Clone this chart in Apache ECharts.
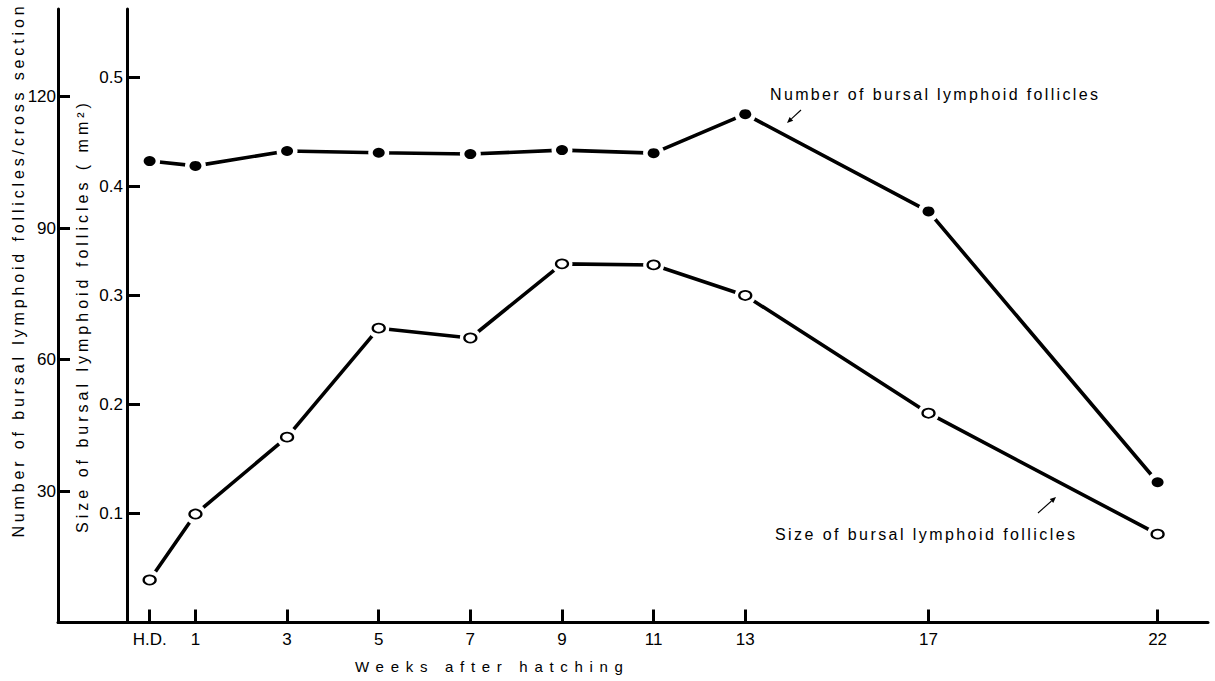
<!DOCTYPE html>
<html>
<head>
<meta charset="utf-8">
<script src="https://cdn.jsdelivr.net/npm/echarts@6.0.0/dist/echarts.min.js"></script>
<style>
  html, body { margin: 0; padding: 0; background: #fff; }
  #chart { width: 1215px; height: 681px; }
</style>
</head>
<body>
<div id="chart"></div>
<script>
// Weeks after hatching (H.D. = hatching day, week 0)
const weeks = [0, 1, 3, 5, 7, 9, 11, 13, 17, 22];
const weekLabels = ['H.D.', '1', '3', '5', '7', '9', '11', '13', '17', '22'];
// Number of bursal lymphoid follicles per cross section
const follicleNumber = [105.3, 104.2, 107.6, 107.2, 106.9, 107.8, 107.1, 116.0, 93.8, 32.0];
// Size of bursal lymphoid follicles (mm²)
const follicleSize = [0.039, 0.0995, 0.170, 0.270, 0.261, 0.329, 0.328, 0.300, 0.192, 0.081];
// Axis tick values
const numberTicks = [30, 60, 90, 120];
const sizeTicks = [0.1, 0.2, 0.3, 0.4, 0.5];

const FONT = "'Liberation Sans', Arial, Helvetica, sans-serif";
const INK = '#000';

const numberPts = weeks.map((w, i) => [w, follicleNumber[i]]);
const sizePts = weeks.map((w, i) => [w, follicleSize[i]]);

// Free-standing texts: axis titles and the two series captions.
// "span" is the length the letter-spaced text should cover.
const texts = [
  { text: 'Number of bursal lymphoid follicles/cross section', x: 18, y: 272, rot: true, size: 16, span: 531 },
  { text: 'Size of bursal lymphoid follicles ( mm²)', x: 82, y: 318, rot: true, size: 16, span: 430 },
  { text: 'Weeks after hatching', x: 489, y: 666, rot: false, size: 15, span: 268 },
  { text: 'Number of bursal lymphoid follicles', x: 934, y: 94, rot: false, size: 16, span: 328 },
  { text: 'Size of bursal lymphoid follicles', x: 925, y: 534, rot: false, size: 16, span: 300 }
];

function arrow(x1, y1, x2, y2) {
  const a = Math.atan2(y2 - y1, x2 - x1);
  const L = 6, W = 2.6;
  const bx = x2 - L * Math.cos(a), by = y2 - L * Math.sin(a);
  return [
    { type: 'line', silent: true, shape: { x1, y1, x2: bx, y2: by }, style: { stroke: INK, lineWidth: 1.1 } },
    { type: 'polygon', silent: true, shape: { points: [[x2, y2], [bx + W * Math.sin(a), by - W * Math.cos(a)], [bx - W * Math.sin(a), by + W * Math.cos(a)]] }, style: { fill: INK } }
  ];
}

const graphic = texts.map(t => ({
  type: 'text', silent: true, x: t.x, y: t.y, rotation: t.rot ? Math.PI / 2 : 0,
  style: { text: t.text, fill: INK, font: `${t.size}px ${FONT}`, align: 'center', verticalAlign: 'middle' }
})).concat(arrow(801, 110, 787, 123), arrow(1038, 513, 1056, 497));

const axisLineStyle = { color: INK, width: 3 };
const tickStyle = { color: INK, width: 3 };
const labelBase = { color: INK, fontSize: 17, fontFamily: FONT };

// Connecting lines (drawn first), white discs that open a small gap
// around every point, then the markers themselves on top.
const lineSeries = (yIdx, data) => ({
  type: 'line', silent: true, yAxisIndex: yIdx, data, symbol: 'none', z: 1,
  lineStyle: { color: INK, width: 3.6 }, emphasis: { disabled: true }
});
const gapSeries = (yIdx, data) => ({
  type: 'scatter', silent: true, yAxisIndex: yIdx, data, z: 2,
  symbol: 'circle', symbolSize: 21, itemStyle: { color: '#fff', borderWidth: 0, opacity: 1 }
});

const option = {
  animation: false,
  backgroundColor: '#fff',
  grid: { left: 58, right: 7, top: 9, bottom: 58.5, containLabel: false },
  xAxis: {
    type: 'value', min: -2, max: 23.1,
    axisLine: { show: true, onZero: false, lineStyle: axisLineStyle },
    axisTick: { show: true, inside: true, length: 13, lineStyle: tickStyle, customValues: weeks },
    axisLabel: { ...labelBase, margin: 8, customValues: weeks, formatter: v => weekLabels[weeks.indexOf(v)] },
    splitLine: { show: false }
  },
  yAxis: [
    {
      type: 'value', min: 0, max: 140, position: 'left',
      axisLine: { show: true, onZero: false, lineStyle: axisLineStyle },
      axisTick: { show: true, inside: true, length: 12, lineStyle: tickStyle, customValues: numberTicks },
      axisLabel: { ...labelBase, margin: 2, customValues: numberTicks },
      splitLine: { show: false }
    },
    {
      type: 'value', min: 0, max: 0.5628, position: 'left', offset: -69,
      axisLine: { show: true, onZero: false, lineStyle: axisLineStyle },
      axisTick: { show: true, inside: true, length: 13, lineStyle: tickStyle, customValues: sizeTicks },
      axisLabel: { ...labelBase, margin: 4, customValues: sizeTicks, formatter: v => v.toFixed(1) },
      splitLine: { show: false }
    }
  ],
  series: [
    lineSeries(0, numberPts),
    lineSeries(1, sizePts),
    gapSeries(0, numberPts),
    gapSeries(1, sizePts),
    {
      type: 'scatter', silent: true, yAxisIndex: 0, data: numberPts, z: 3,
      symbol: 'circle', symbolSize: [12, 10], itemStyle: { color: INK, opacity: 1 }
    },
    {
      type: 'scatter', silent: true, yAxisIndex: 1, data: sizePts, z: 3,
      symbol: 'circle', symbolSize: [12, 9], itemStyle: { color: '#fff', borderColor: INK, borderWidth: 2, opacity: 1 }
    }
  ],
  graphic: graphic
};

const chart = echarts.init(document.getElementById('chart'), null, { renderer: 'svg' });
chart.setOption(option);

// Spread the titles out with letter spacing so they cover their intended length.
(function spaceTitles() {
  const ctx = document.createElement('canvas').getContext('2d');
  document.querySelectorAll('#chart text').forEach(el => {
    const t = texts.find(d => d.text === el.textContent);
    if (!t) return;
    ctx.font = `${t.size}px ${FONT}`;
    const natural = ctx.measureText(t.text).width;
    const sp = Math.max(0, (t.span - natural) / (t.text.length - 1));
    el.setAttribute('letter-spacing', sp.toFixed(2));
    el.setAttribute('dx', (sp / 2).toFixed(2));
  });
})();
</script>
</body>
</html>
